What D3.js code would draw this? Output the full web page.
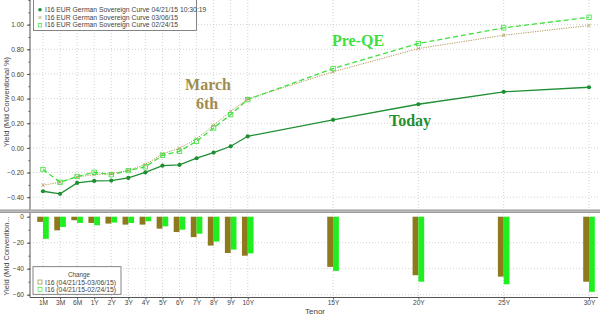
<!DOCTYPE html>
<html>
<head>
<meta charset="utf-8">
<script src="https://d3js.org/d3.v7.min.js"></script>
<style>
  body { margin: 0; background: #fff; }
  svg { display: block; font-family: "Liberation Sans", Arial, sans-serif; }
</style>
</head>
<body>
<div id="chart"></div>
<script>
// tenors and their position on the x axis (equal steps up to 10Y, then by years)
const tenors = ["1M","3M","6M","1Y","2Y","3Y","4Y","5Y","6Y","7Y","8Y","9Y","10Y","15Y","20Y","25Y","30Y"];
const tenorYears = [1/12, 0.25, 0.5, 1, 2, 3, 4, 5, 6, 7, 8, 9, 10, 15, 20, 25, 30];

// yields, %
const today  = [-0.352,-0.373,-0.284,-0.268,-0.265,-0.244,-0.198,-0.144,-0.138,-0.084,-0.038,0.013,0.094,0.228,0.354,0.455,0.492];
const march6 = [-0.303,-0.279,-0.236,-0.217,-0.209,-0.182,-0.136,-0.049,-0.003,0.073,0.183,0.297,0.398,0.617,0.806,0.914,0.993];
const feb24  = [-0.176,-0.279,-0.232,-0.198,-0.217,-0.184,-0.154,-0.060,-0.028,0.054,0.162,0.270,0.392,0.644,0.847,0.974,1.060];

// changes, bp
const chgMarch = [-4.0,-10.5,-2.7,-4.8,-5.3,-6.1,-6.1,-9.2,-11.8,-15.7,-22.2,-27.9,-30.0,-38.6,-45.0,-46.1,-50.0];
const chgFeb   = [-17.0,-7.9,-4.8,-6.6,-4.5,-4.8,-3.5,-7.4,-10.0,-13.1,-19.1,-25.3,-28.2,-41.7,-50.0,-52.0,-57.8];

const yieldTicks = [1.0, 0.8, 0.6, 0.4, 0.2, 0.0, -0.2, -0.4];
const chgTicks = [0, -20, -40, -60];

const legendTop = [
  "I16 EUR German Sovereign Curve 04/21/15 10:30:19",
  "I16 EUR German Sovereign Curve 03/06/15",
  "I16 EUR German Sovereign Curve 02/24/15"
];
const legendBottom = ["I16 (04/21/15-03/06/15)", "I16 (04/21/15-02/24/15)"];

const W = 600, H = 317;
const left = 30, right = 598;
const c = {
  today: "#1f8f33", march: "#b39a5c", feb: "#3ee03e",
  barMarch: "#8c7a1c", barFeb: "#1fef1f",
  grid: "#c8c8c8", axis: "#555", text: "#444"
};

const svg = d3.select("#chart").append("svg")
  .attr("width", W).attr("height", H);

const pos = tenorYears.map((y, i) => i < 13 ? i : 12 + (y - 10));
const x = d3.scaleLinear().domain([0, 32]).range([43, 589]);
const yTop = d3.scaleLinear().domain([1.2, -0.5]).range([0, 209.5]);
const yBot = d3.scaleLinear().domain([0, -60]).range([216.7, 294.7]);
const botY = 297.5;

// gridlines
const grid = svg.append("g").attr("stroke", c.grid).attr("stroke-dasharray", "1,2").attr("stroke-width", 0.8);
grid.selectAll(".vt").data(pos).join("line")
  .attr("x1", d => x(d)).attr("x2", d => x(d)).attr("y1", 0).attr("y2", 209);
grid.selectAll(".vb").data(pos).join("line")
  .attr("x1", d => x(d)).attr("x2", d => x(d)).attr("y1", 214).attr("y2", botY);
grid.selectAll(".ht").data(yieldTicks).join("line")
  .attr("x1", left).attr("x2", right).attr("y1", d => yTop(d)).attr("y2", d => yTop(d));
grid.selectAll(".hb").data(chgTicks.slice(1)).join("line")
  .attr("x1", left).attr("x2", right).attr("y1", d => yBot(d)).attr("y2", d => yBot(d));

// axes
const axTop = svg.append("g").attr("transform", `translate(${left},0)`)
  .call(d3.axisLeft(yTop).tickValues(yieldTicks).tickFormat(d3.format(".2f")).tickSize(3));
const axTopMinor = svg.append("g").attr("transform", `translate(${left},0)`)
  .call(d3.axisLeft(yTop).tickValues(d3.range(-0.5, 1.21, 0.1)).tickFormat("").tickSize(1.5));
const axBot = svg.append("g").attr("transform", `translate(${left},0)`)
  .call(d3.axisLeft(yBot).tickValues(chgTicks).tickFormat(d3.format("d")).tickSize(3));
const axBotMinor = svg.append("g").attr("transform", `translate(${left},0)`)
  .call(d3.axisLeft(yBot).tickValues(d3.range(-60, 1, 10)).tickFormat("").tickSize(1.5));
const axX = svg.append("g").attr("transform", `translate(0,${botY})`)
  .call(d3.axisBottom(x).tickValues(pos).tickFormat((d, i) => tenors[i]).tickSize(2));
[axTop, axTopMinor, axBot, axBotMinor, axX].forEach(g => {
  g.select(".domain").attr("stroke", c.axis);
  g.selectAll(".tick line").attr("stroke", c.axis);
  g.selectAll("text").attr("fill", c.text).style("font-size", "6.6px").style("font-family", "Liberation Sans, Arial, sans-serif");
});
axTop.select(".domain").attr("d", "M0,0V209.5");
axBot.select(".domain").attr("d", `M0,213V${botY}`);
axBotMinor.select(".domain").remove();
axTopMinor.select(".domain").remove();
axX.select(".domain").attr("d", `M${left},0H${right}`);
axX.selectAll("text").attr("dy", "0.4em");

// panel separator
svg.append("rect").attr("x", 0).attr("y", 209.5).attr("width", W).attr("height", 3.5).attr("fill", "#9a9a9a");
svg.append("line").attr("x1", 0).attr("x2", W).attr("y1", 211.2).attr("y2", 211.2).attr("stroke", "#dcdcdc").attr("stroke-width", 0.8);

// axis titles
svg.append("text").attr("transform", "translate(9,102) rotate(-90)")
  .attr("text-anchor", "middle").attr("fill", c.text).style("font-size", "7.5px")
  .text("Yield (Mid Conventional %)");
svg.append("text").attr("transform", "translate(9,256) rotate(-90)")
  .attr("text-anchor", "middle").attr("fill", c.text).style("font-size", "7.5px")
  .text("Yield (Mid Convention...");
svg.append("text").attr("x", 315).attr("y", 314).attr("text-anchor", "middle")
  .attr("fill", c.text).style("font-size", "8px").text("Tenor");

// bars
const bw = 5.8;
svg.append("g").selectAll("rect").data(chgMarch).join("rect")
  .attr("x", (d, i) => x(pos[i]) - bw).attr("width", bw)
  .attr("y", yBot(0)).attr("height", d => yBot(d) - yBot(0))
  .attr("fill", c.barMarch);
svg.append("g").selectAll("rect").data(chgFeb).join("rect")
  .attr("x", (d, i) => x(pos[i])).attr("width", bw)
  .attr("y", yBot(0)).attr("height", d => yBot(d) - yBot(0))
  .attr("fill", c.barFeb);

// lines
const line = d3.line().x((d, i) => x(pos[i])).y(d => yTop(d));
svg.append("path").datum(march6).attr("d", line).attr("fill", "none")
  .attr("stroke", c.march).attr("stroke-width", 1).attr("stroke-dasharray", "1.2,1.2");
svg.append("path").datum(feb24).attr("d", line).attr("fill", "none")
  .attr("stroke", c.feb).attr("stroke-width", 1.3).attr("stroke-dasharray", "5,3");
svg.append("path").datum(today).attr("d", line).attr("fill", "none")
  .attr("stroke", c.today).attr("stroke-width", 1.3);

// markers
svg.append("g").selectAll("path").data(march6).join("path")
  .attr("transform", (d, i) => `translate(${x(pos[i])},${yTop(d)})`)
  .attr("d", "M-1.8,-1.8L1.8,1.8M-1.8,1.8L1.8,-1.8")
  .attr("stroke", c.march).attr("stroke-width", 0.8);
svg.append("g").selectAll("rect").data(feb24).join("rect")
  .attr("x", (d, i) => x(pos[i]) - 2.2).attr("y", d => yTop(d) - 2.2)
  .attr("width", 4.4).attr("height", 4.4)
  .attr("fill", "none").attr("stroke", c.feb).attr("stroke-width", 0.8);
svg.append("g").selectAll("circle").data(today).join("circle")
  .attr("cx", (d, i) => x(pos[i])).attr("cy", d => yTop(d)).attr("r", 2.1)
  .attr("fill", c.today);

// annotations
const ann = svg.append("g").style("font-family", "Liberation Serif, DejaVu Serif, serif").style("font-weight", "bold").style("font-size", "16px");
ann.append("text").attr("x", 358).attr("y", 46).attr("text-anchor", "middle").attr("fill", c.feb).text("Pre-QE");
ann.append("text").attr("x", 410).attr("y", 126).attr("text-anchor", "middle").attr("fill", c.today).text("Today");
ann.append("text").attr("x", 208).attr("y", 90).attr("text-anchor", "middle").attr("fill", "#a08c50").text("March");
ann.append("text").attr("x", 207).attr("y", 109).attr("text-anchor", "middle").attr("fill", "#a08c50").text("6th");

// top legend
const lg = svg.append("g");
lg.append("rect").attr("x", 33.5).attr("y", -1).attr("width", 163).attr("height", 31.5)
  .attr("fill", "#fff").attr("stroke", "#666").attr("stroke-width", 0.8);
lg.selectAll("text").data(legendTop).join("text")
  .attr("x", 45).attr("y", (d, i) => 12 + i * 7.6)
  .attr("fill", c.text).style("font-size", "6.8px").text(d => d);
lg.append("circle").attr("cx", 40).attr("cy", 9.8).attr("r", 1.8).attr("fill", c.today);
lg.append("path").attr("d", "M38.5,16L41.5,19M38.5,19L41.5,16").attr("stroke", c.march).attr("stroke-width", 0.8);
lg.append("rect").attr("x", 38.3).attr("y", 23.6).attr("width", 3.4).attr("height", 3.4)
  .attr("fill", "none").attr("stroke", c.feb).attr("stroke-width", 0.7);

// bottom legend
const lb = svg.append("g");
lb.append("rect").attr("x", 33).attr("y", 266.7).attr("width", 88).attr("height", 27.6)
  .attr("fill", "#fff").attr("stroke", "#666").attr("stroke-width", 0.8);
lb.append("text").attr("x", 79).attr("y", 277).attr("text-anchor", "middle")
  .attr("fill", c.text).style("font-size", "6.3px").text("Change");
lb.selectAll(".t").data(legendBottom).join("text")
  .attr("x", 45).attr("y", (d, i) => 284.8 + i * 7.6)
  .attr("fill", c.text).style("font-size", "6.8px").text(d => d);
lb.append("rect").attr("x", 38).attr("y", 280).attr("width", 4).attr("height", 4)
  .attr("fill", "none").attr("stroke", c.barMarch).attr("stroke-width", 0.6);
lb.append("rect").attr("x", 38).attr("y", 287.6).attr("width", 4).attr("height", 4)
  .attr("fill", "none").attr("stroke", c.barFeb).attr("stroke-width", 0.6);
</script>
</body>
</html>
